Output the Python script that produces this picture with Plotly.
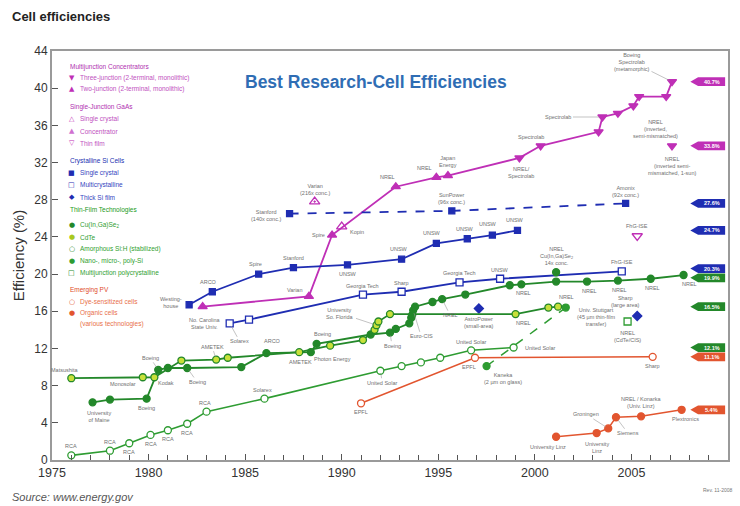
import plotly.graph_objects as go

FONT = "Arial, Liberation Sans, Helvetica, sans-serif"

# ---------------- data: year / efficiency (%) ----------------
# Multijunction concentrators
mj3_year = [1999.2, 2000.3, 2003.3, 2003.5, 2004.3, 2005.1, 2005.4, 2006.8, 2007.1]
mj3_eff = [32.5, 33.8, 35.3, 36.9, 37.3, 38.1, 39.1, 39.1, 40.7]
mj2_year = [1982.8, 1988.3, 1989.5, 1992.8, 1994.9, 1995.5]
mj2_eff = [16.5, 17.6, 24.2, 29.4, 30.4, 30.6]
imm_year = [2007.1]
imm_eff = [33.8]
# Single-junction GaAs
gaas_sc_year = [1990.0]
gaas_sc_eff = [25.1]
gaas_conc_year = [1988.6]
gaas_conc_eff = [27.8]
gaas_tf_year = [2005.3]
gaas_tf_eff = [24.1]
# Crystalline Si
si_sc_year = [1982.1, 1983.3, 1985.7, 1987.5, 1990.3, 1993.1, 1994.9, 1996.5, 1997.8, 1999.1]
si_sc_eff = [16.7, 18.1, 20.0, 20.7, 21.0, 21.6, 23.3, 23.8, 24.2, 24.7]
si_conc_year = [1987.3, 1995.7, 2004.7]
si_conc_eff = [26.5, 26.8, 27.6]
si_mc_year = [1984.2, 1985.2, 1991.1, 1993.1, 1996.1, 1998.2, 2004.5]
si_mc_eff = [14.7, 15.1, 17.8, 18.1, 19.1, 19.5, 20.3]
si_thick_year = [1997.1, 2005.3]
si_thick_eff = [16.3, 15.5]
# Thin-film technologies
cigs_year = [1977.1, 1978.0, 1979.9, 1980.5, 1981.0, 1982.0, 1984.8, 1986.1, 1988.4, 1988.7,
             1991.5, 1992.5, 1992.8, 1993.5, 1993.6, 1993.65, 1993.7, 1993.8, 1994.7, 1995.2,
             1996.4, 1998.7, 1999.3, 2001.1, 2002.7, 2004.3, 2006.0, 2007.7]
cigs_eff = [6.2, 6.5, 6.6, 9.7, 9.9, 9.9, 10.0, 11.5, 11.6, 12.5,
            13.5, 13.7, 14.1, 14.7, 15.3, 15.6, 16.1, 16.5, 17.0, 17.3,
            17.8, 18.8, 18.9, 19.2, 19.2, 19.3, 19.5, 19.9]
cigs_conc_year = [2001.1]
cigs_conc_eff = [20.2]
cdte_year = [1976.0, 1979.7, 1980.3, 1981.7, 1983.5, 1984.1, 1987.8, 1989.4, 1991.1, 1991.7,
             1991.8, 1991.9, 1992.5, 1999.0, 2000.7, 2001.2]
cdte_eff = [8.8, 8.9, 8.9, 10.7, 10.8, 11.0, 11.6, 12.3, 12.9, 14.0,
            14.5, 14.9, 15.7, 15.7, 16.4, 16.5]
asi_year = [1976.0, 1978.0, 1979.0, 1980.1, 1981.0, 1982.0, 1983.0, 1986.0, 1992.0, 1993.1,
            1994.1, 1995.1, 1996.7, 1998.9]
asi_eff = [0.5, 1.0, 1.8, 2.7, 3.2, 3.9, 5.2, 6.6, 9.6, 10.1, 10.5, 11.0, 11.8, 12.1]
nano_year = [1997.5, 2001.6]
nano_eff = [10.1, 16.4]
mjpoly_year = [2004.8]
mjpoly_eff = [14.9]
# Emerging PV
dye_year = [1991.0, 1996.9, 2006.1]
dye_eff = [6.1, 11.0, 11.1]
opv_year = [2001.1, 2003.2, 2003.8, 2004.2, 2005.5, 2007.6]
opv_eff = [2.5, 2.9, 3.4, 4.6, 4.7, 5.4]

# ---------------- colours ----------------
MAG = "#bf2fb6"
BLUE = "#1f2db2"
GRN = "#23882a"
GRN_LT = "#2e9c32"
YG = "#c8e03a"
RED = "#e2552f"

# plot-area geometry (pixels) used for placing paper-referenced text
L, R, T, B = 52, 10, 51, 46
W, H = 740, 506
PW, PH = W - L - R, H - T - B


def px(x):
    return (x - L) / PW


def py(y):
    return (H - B - y) / PH


fig = go.Figure()


def series(x, y, color, symbol, size=7, mode="lines+markers", dash="solid",
           fill=None, mline=None, lw=1.8):
    fig.add_trace(go.Scatter(
        x=x, y=y, mode=mode, showlegend=False, hoverinfo="skip",
        line=dict(color=color, width=lw, dash=dash),
        marker=dict(symbol=symbol, size=size, color=fill or color,
                    line=dict(color=mline or color, width=1.3)),
    ))


# magenta multijunction frontier (two-junction then three-junction)
series([mj2_year[-1], mj3_year[0]], [mj2_eff[-1], mj3_eff[0]], MAG, "circle", mode="lines")
series(mj2_year, mj2_eff, MAG, "triangle-up", size=8)
series(mj3_year, mj3_eff, MAG, "triangle-down", size=8)
series(imm_year, imm_eff, MAG, "triangle-down", size=8, mode="markers")
series(gaas_sc_year, gaas_sc_eff, MAG, "triangle-up-open", size=9, mode="markers")
series(gaas_conc_year, gaas_conc_eff, MAG, "triangle-up-open-dot", size=9, mode="markers")
series(gaas_tf_year, gaas_tf_eff, MAG, "triangle-down-open", size=9, mode="markers")

# crystalline Si
series(si_conc_year, si_conc_eff, BLUE, "square", size=6, dash="dash")
series(si_sc_year, si_sc_eff, BLUE, "square", size=6)
series(si_mc_year, si_mc_eff, BLUE, "square", size=7, fill="white")
series(si_thick_year, si_thick_eff, BLUE, "diamond", size=7, mode="markers")

# thin films
series(asi_year, asi_eff, GRN_LT, "circle", size=7, fill="white", lw=1.6)
series(nano_year, nano_eff, GRN_LT, "circle", size=7, dash="dash", lw=1.5)
series(cigs_year, cigs_eff, GRN, "circle", size=7)
series(cigs_conc_year, cigs_conc_eff, GRN, "circle", size=7, mode="markers")
series(cdte_year, cdte_eff, GRN, "circle", size=7, fill=YG, mline=GRN)
series(mjpoly_year, mjpoly_eff, GRN_LT, "square", size=7, fill="white", mode="markers")

# emerging PV
series(dye_year, dye_eff, RED, "circle", size=7, fill="white", lw=1.5)
series(opv_year, opv_eff, RED, "circle", size=7, lw=1.5)

# ---------------- point labels ----------------
LBL = dict(family=FONT, size=5.5, color="#707070")


def tag(xs, ys, i, text, ax, ay, leader=False):
    fig.add_annotation(
        x=xs[i], y=ys[i], text=text, showarrow=True, ax=ax, ay=ay,
        arrowhead=0, arrowwidth=0.6, standoff=3 if leader else 0,
        arrowcolor="#9a9a9a" if leader else "rgba(0,0,0,0)",
        font=LBL, align="center",
    )


tag(mj2_year, mj2_eff, 0, "No. Carolina<br>State Univ.", 2, 17)
tag(mj2_year, mj2_eff, 1, "Varian", -14, -6)
tag(mj2_year, mj2_eff, 2, "Spire", -14, 0)
tag(mj2_year, mj2_eff, 3, "NREL", -8, -10)
tag(mj2_year, mj2_eff, 4, "NREL", -12, -9)
tag(mj2_year, mj2_eff, 5, "Japan<br>Energy", 0, -14)
tag(mj3_year, mj3_eff, 0, "NREL/<br>Spectrolab", 2, 15)
tag(mj3_year, mj3_eff, 1, "Spectrolab", -10, -9)
tag(mj3_year, mj3_eff, 3, "Spectrolab", -44, 0, leader=True)
tag(mj3_year, mj3_eff, 4, "NREL<br>(inverted,<br>semi-mismatched)", 38, 16)
tag(mj3_year, mj3_eff, 8, "Boeing<br>Spectrolab<br>(metamorphic)", -40, -20, leader=True)
tag(imm_year, imm_eff, 0, "NREL<br>(inverted semi-<br>mismatched, 1-sun)", 0, 20)
tag(gaas_sc_year, gaas_sc_eff, 0, "Kopin", 15, 5)
tag(gaas_conc_year, gaas_conc_eff, 0, "Varian<br>(216x conc.)", 0, -12)
tag(gaas_tf_year, gaas_tf_eff, 0, "FhG-ISE", 0, -10)

tag(si_sc_year, si_sc_eff, 0, "Westing-<br>house", -18, -2)
tag(si_sc_year, si_sc_eff, 1, "ARCO", -4, -10)
tag(si_sc_year, si_sc_eff, 2, "Spire", -3, -10)
tag(si_sc_year, si_sc_eff, 3, "Stanford", 0, -10)
tag(si_sc_year, si_sc_eff, 4, "UNSW", 0, 9)
tag(si_sc_year, si_sc_eff, 5, "UNSW", -3, -10)
tag(si_sc_year, si_sc_eff, 6, "UNSW", -4, -10)
tag(si_sc_year, si_sc_eff, 7, "UNSW", -2, -10)
tag(si_sc_year, si_sc_eff, 8, "UNSW", -4, -11)
tag(si_sc_year, si_sc_eff, 9, "UNSW", -2, -10)
tag(si_conc_year, si_conc_eff, 0, "Stanford<br>(140x conc.)", -24, 2)
tag(si_conc_year, si_conc_eff, 1, "SunPower<br>(96x conc.)", 0, -12)
tag(si_conc_year, si_conc_eff, 2, "Amonix<br>(92x conc.)", 0, -12)
tag(si_mc_year, si_mc_eff, 0, "Solarex", 10, 18, leader=True)
tag(si_mc_year, si_mc_eff, 2, "Georgia Tech", 0, -9)
tag(si_mc_year, si_mc_eff, 3, "Sharp", 0, -9)
tag(si_mc_year, si_mc_eff, 4, "Georgia Tech", 0, -9)
tag(si_mc_year, si_mc_eff, 5, "UNSW", 0, -9)
tag(si_mc_year, si_mc_eff, 6, "FhG-ISE", 0, -9)
tag(si_thick_year, si_thick_eff, 0, "AstroPower<br>(small-area)", 0, 14)
tag(si_thick_year, si_thick_eff, 1, "Sharp<br>(large area)", -12, -14)

tag(cdte_year, cdte_eff, 0, "Matsushita", -6, -8)
tag(cdte_year, cdte_eff, 1, "Monosolar", -20, 7)
tag(cdte_year, cdte_eff, 2, "Kodak", 12, 6)
tag(cdte_year, cdte_eff, 4, "AMETEK", -4, -13, leader=True)
tag(cdte_year, cdte_eff, 7, "Photon Energy", 2, 13)
tag(cdte_year, cdte_eff, 10, "University<br>So. Florida", -36, -12, leader=True)
tag(cdte_year, cdte_eff, 13, "NREL", 8, 9)
tag(cdte_year, cdte_eff, 15, "NREL", 8, -10)
tag(cigs_year, cigs_eff, 0, "University<br>of Maine", 6, 14)
tag(cigs_year, cigs_eff, 2, "Boeing", 0, 9)
tag(cigs_year, cigs_eff, 3, "Boeing", -8, -12, leader=True)
tag(cigs_year, cigs_eff, 5, "Boeing", 10, 14, leader=True)
tag(cigs_year, cigs_eff, 7, "ARCO", 6, -12)
tag(cigs_year, cigs_eff, 8, "AMETEK", -10, 10)
tag(cigs_year, cigs_eff, 9, "Boeing", 6, -10)
tag(cigs_year, cigs_eff, 11, "Boeing", 2, 13, leader=True)
tag(cigs_year, cigs_eff, 16, "Euro-CIS", 8, 26, leader=True)
tag(cigs_year, cigs_eff, 19, "NREL", 8, 16, leader=True)
tag(cigs_year, cigs_eff, 22, "NREL", 2, 9)
tag(cigs_year, cigs_eff, 24, "NREL", 2, 9)
tag(cigs_year, cigs_eff, 25, "NREL", 2, 9)
tag(cigs_year, cigs_eff, 26, "NREL", 2, 9)
tag(cigs_year, cigs_eff, 27, "NREL", 6, 9)
tag(cigs_conc_year, cigs_conc_eff, 0, "NREL<br>Cu(In,Ga)Se<sub>2</sub><br>14x conc.", 0, -16)
tag(asi_year, asi_eff, 0, "RCA", 0, -9)
tag(asi_year, asi_eff, 1, "RCA", 0, -9)
tag(asi_year, asi_eff, 2, "RCA", 0, 9)
tag(asi_year, asi_eff, 3, "RCA", 0, 9)
tag(asi_year, asi_eff, 4, "RCA", 0, 9)
tag(asi_year, asi_eff, 5, "RCA", 0, 9)
tag(asi_year, asi_eff, 6, "RCA", -2, -9)
tag(asi_year, asi_eff, 7, "Solarex", -2, -9)
tag(asi_year, asi_eff, 8, "United Solar", 2, 12, leader=True)
tag(asi_year, asi_eff, 12, "United Solar", 0, -8)
tag(asi_year, asi_eff, 13, "United Solar", 26, 0)
tag(nano_year, nano_eff, 0, "Kaneka<br>(2 \u00b5m on glass)", 16, 12)
tag(nano_year, nano_eff, 1, "Univ. Stuttgart<br>(45 \u00b5m thin-film<br>transfer)", 30, 9)
tag(mjpoly_year, mjpoly_eff, 0, "NREL<br>(CdTe/CIS)", 0, 15)
tag(dye_year, dye_eff, 0, "EPFL", 0, 9)
tag(dye_year, dye_eff, 1, "EPFL", -6, 9)
tag(dye_year, dye_eff, 2, "Sharp", 0, 9)
tag(opv_year, opv_eff, 0, "University Linz", -8, 10)
tag(opv_year, opv_eff, 1, "University<br>Linz", 0, 14)
tag(opv_year, opv_eff, 2, "Groningen", -22, -14, leader=True)
tag(opv_year, opv_eff, 3, "Siemens", 12, 16, leader=True)
tag(opv_year, opv_eff, 4, "NREL / Konarka<br>(Univ. Linz)", 0, -14)
tag(opv_year, opv_eff, 5, "Plextronics", 4, 9)

# ---------------- record badges on the right ----------------
badges = [
    (mj3_eff[-1], MAG), (imm_eff[0], MAG),
    (si_conc_eff[-1], BLUE), (si_sc_eff[-1], BLUE), (si_mc_eff[-1], BLUE),
    (cigs_eff[-1], GRN), (cdte_eff[-1], GRN), (asi_eff[-1], GRN),
    (dye_eff[-1], RED), (opv_eff[-1], RED),
]
badges.sort(key=lambda b: -b[0])
centers = [b[0] for b in badges]
MIN_GAP = 1.0
for _ in range(5):
    for i in range(1, len(centers)):
        gap = centers[i - 1] - centers[i]
        if gap < MIN_GAP:
            d = (MIN_GAP - gap) / 2
            centers[i - 1] += d
            centers[i] -= d
HB = 0.47
for (val, col), c in zip(badges, centers):
    fig.add_shape(
        type="path", xref="x", yref="y",
        path=(f"M 2008.05 {c} L 2008.45 {c + HB} L 2009.85 {c + HB} "
              f"L 2009.85 {c - HB} L 2008.45 {c - HB} Z"),
        fillcolor=col, line=dict(width=0), layer="above",
    )
    fig.add_annotation(x=2009.15, y=c, text=f"<b>{val:.1f}%</b>", showarrow=False,
                       font=dict(family=FONT, size=5.5, color="white"))

# ---------------- legend block ----------------
LEG_SIZE = 6.5
legend_rows = [
    (67, None, None, "Multijunction Concentrators", "#b030b0"),
    (78, "\u25bc", MAG, "Three-junction (2-terminal, monolithic)", "#c050c0"),
    (89, "\u25b2", MAG, "Two-junction (2-terminal, monolithic)", "#c050c0"),
    (107, None, None, "Single-Junction GaAs", "#b030b0"),
    (119, "\u25b3", MAG, "Single crystal", "#c050c0"),
    (131, "\u25b2", "#d070d0", "Concentrator", "#c050c0"),
    (143, "\u25bd", MAG, "Thin film", "#c050c0"),
    (161, None, None, "Crystalline Si Cells", "#2030b0"),
    (173, "\u25a0", BLUE, "Single crystal", "#3545c0"),
    (185, "\u25a1", BLUE, "Multicrystalline", "#3545c0"),
    (197, "\u25c6", BLUE, "Thick Si film", "#3545c0"),
    (210, None, None, "Thin-Film Technologies", "#229a22"),
    (225, "\u25cf", GRN, "Cu(In,Ga)Se<sub>2</sub>", "#30a030"),
    (237, "\u25cf", "#a8c81e", "CdTe", "#30a030"),
    (249, "\u25cb", GRN, "Amorphous Si:H (stabilized)", "#30a030"),
    (261, "\u25cf", GRN_LT, "Nano-, micro-, poly-Si", "#30a030"),
    (273, "\u25a1", GRN, "Multijunction polycrystalline", "#30a030"),
    (290, None, None, "Emerging PV", "#e04a2a"),
    (302, "\u25cb", RED, "Dye-sensitized cells", "#e8704a"),
    (313, "\u25cf", RED, "Organic cells", "#e8704a"),
    (324, "", None, "(various technologies)", "#e8704a"),
]
for y, sym, scol, text, tcol in legend_rows:
    if sym is None:
        fig.add_annotation(x=px(68), y=py(y), xref="paper", yref="paper", text=text,
                           showarrow=False, xanchor="left", yanchor="middle",
                           font=dict(family=FONT, size=LEG_SIZE, color=tcol))
    else:
        if sym:
            fig.add_annotation(x=px(72), y=py(y), xref="paper", yref="paper", text=sym,
                               showarrow=False, xanchor="center", yanchor="middle",
                               font=dict(family="DejaVu Sans", size=7, color=scol))
        fig.add_annotation(x=px(78), y=py(y), xref="paper", yref="paper", text=text,
                           showarrow=False, xanchor="left", yanchor="middle",
                           font=dict(family=FONT, size=LEG_SIZE, color=tcol))

# ---------------- titles & footers (pixel positions -> paper) ----------------
fig.add_annotation(x=px(377), y=py(70), xref="paper", yref="paper",
                   text="<b>Best Research-Cell Efficiencies</b>", showarrow=False,
                   font=dict(family=FONT, size=17.5, color="#2f6db4"))
fig.add_annotation(x=px(10), y=py(17), xref="paper", yref="paper",
                   xanchor="left", yanchor="middle", showarrow=False,
                   text="<b>Cell efficiencies</b>",
                   font=dict(family=FONT, size=13, color="#222222"))
fig.add_annotation(x=px(10), y=py(497), xref="paper", yref="paper",
                   xanchor="left", yanchor="middle", showarrow=False,
                   text="<i>Source: www.energy.gov</i>",
                   font=dict(family=FONT, size=11, color="#555555"))
fig.add_annotation(x=px(736), y=py(490), xref="paper", yref="paper",
                   xanchor="right", yanchor="middle", showarrow=False,
                   text="Rev. 11-2008", font=dict(family=FONT, size=5, color="#777777"))

fig.update_layout(
    width=W, height=H,
    margin=dict(l=L, r=R, t=T, b=B, pad=0),
    paper_bgcolor="white", plot_bgcolor="white",
    font=dict(family=FONT, color="#333333"),
    showlegend=False,
)
fig.update_xaxes(
    range=[1975, 2010], tickmode="linear", tick0=1975, dtick=5,
    ticks="inside", ticklen=6, tickcolor="#555", tickwidth=1,
    minor=dict(dtick=1, ticks="inside", ticklen=5, tickcolor="#555"),
    showline=True, linecolor="#9a9a9a", linewidth=2, mirror=True,
    showgrid=False, zeroline=False,
    tickfont=dict(family=FONT, size=12.5, color="#333"),
)
fig.update_yaxes(
    range=[0, 44], tickmode="linear", tick0=0, dtick=4,
    ticks="inside", ticklen=6, tickcolor="#555", tickwidth=1,
    showline=True, linecolor="#9a9a9a", linewidth=2, mirror=True,
    showgrid=False, zeroline=False,
    tickfont=dict(family=FONT, size=12, color="#333"),
    title=dict(text="Efficiency (%)", font=dict(family=FONT, size=15, color="#333"), standoff=6),
)

fig.write_html("out.html")
